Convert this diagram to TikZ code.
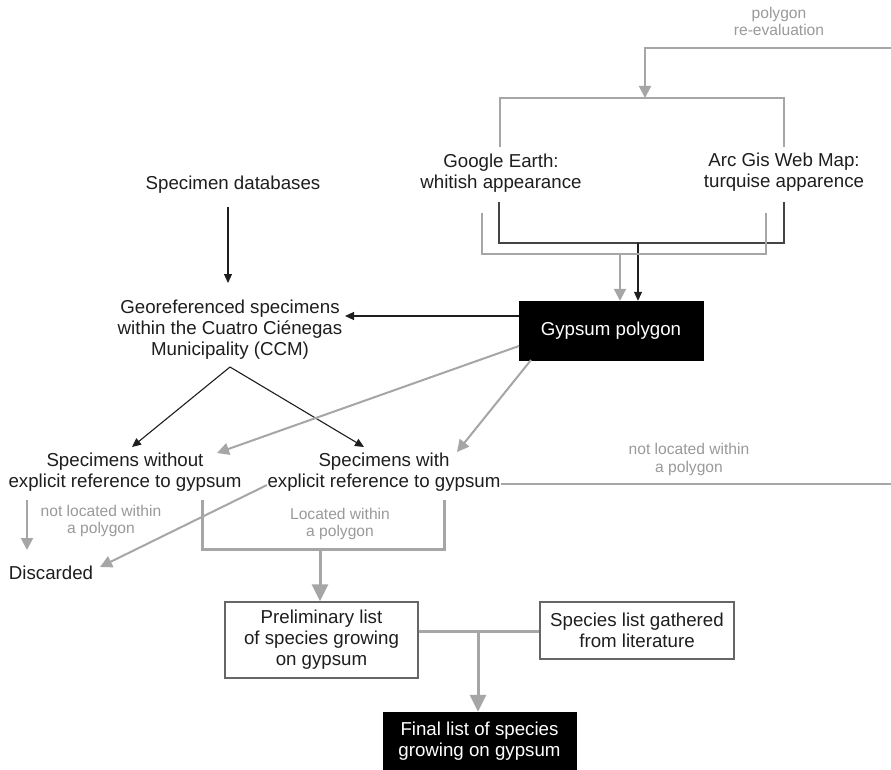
\documentclass[tikz,border=0pt]{standalone}
\usepackage{fontspec}
\setmainfont{Liberation Sans}
\usetikzlibrary{arrows.meta}
\definecolor{lgray}{HTML}{A6A6A6}
\definecolor{tgray}{HTML}{9A9A9A}
\definecolor{dk}{HTML}{1E1E1E}
\definecolor{bk}{HTML}{444444}
\begin{document}
\begin{tikzpicture}[x=1pt,y=-1pt,
  txt/.style={font=\fontsize{18.7}{21}\selectfont, text=dk, align=center, inner sep=0pt},
  lab/.style={font=\fontsize{15.6}{17.5}\selectfont, text=tgray, align=center, inner sep=0pt},
  whitebox/.style={txt, draw=black!60, line width=1.3pt, fill=white},
  blackbox/.style={txt, text=white, fill=black, draw=black},
  blk/.style={draw=dk, line width=1.1pt, -{Triangle[length=9pt,width=8pt]}},
  gry/.style={draw=lgray, line width=2pt},
  gryarr/.style={gry, -{Triangle[length=12pt,width=12pt]}},
  gbold/.style={draw=lgray, line width=3pt},
  gboldarr/.style={gbold, -{Triangle[length=17pt,width=16pt]}},
  bkt/.style={draw=bk, line width=2pt}
]
\useasboundingbox[fill=white] (0,0) rectangle (891,770);

% nodes
\node[lab] (poly) at (779,21.5) {polygon\\re-evaluation};
\node[txt] (ge) at (501,173.5) {Google Earth:\\whitish appearance};
\node[txt] (arc) at (784,172.5) {Arc Gis Web Map:\\turquise apparence};
\node[txt] (db) at (233,185) {Specimen databases};
\node[txt] (geo) at (230,329.5) {Georeferenced specimens\\within the Cuatro Ciénegas\\Municipality (CCM)};
\node[blackbox, minimum width=184pt, minimum height=59pt] (gyp) at (611,330.5) {Gypsum polygon};
\node[txt] (wo) at (125,472.5) {Specimens without\\explicit reference to gypsum};
\node[txt] (wi) at (384,472.5) {Specimens with\\explicit reference to gypsum};
\node[lab] (nlr) at (689,459.5) {not located within\\a polygon};
\node[lab] (nll) at (101,521) {not located within\\a polygon};
\node[lab] (loc) at (340,524) {Located within\\a polygon};
\node[txt] (dis) at (51,573) {Discarded};
\node[whitebox, minimum width=193pt, minimum height=76pt] (pre) at (321.5,640) {Preliminary list\\of species growing\\on gypsum};
\node[whitebox, minimum width=194pt, minimum height=57pt] (lit) at (637,630.5) {Species list gathered\\from literature};
\node[blackbox, minimum width=193pt, minimum height=58pt] (fin) at (479.5,741) {Final list of species\\growing on gypsum};

% coordinates
\coordinate (fbA) at (891,484);
\coordinate (fbB) at (891,48);
\coordinate (fbC) at (645,48);
\coordinate (gt) at (645,98);
\coordinate (u1) at (500,147);
\coordinate (u2) at (500,98);
\coordinate (u3) at (784,98);
\coordinate (u4) at (784,147);
\coordinate (b1) at (499,202);
\coordinate (b2) at (499,243);
\coordinate (b3) at (784,243);
\coordinate (b4) at (784,202);
\coordinate (bm) at (638,243);
\coordinate (l1) at (482,213);
\coordinate (l2) at (482,254);
\coordinate (l3) at (766,254);
\coordinate (l4) at (766,213);
\coordinate (lm) at (620,254);
\coordinate (d1) at (228,207);
\coordinate (d2) at (228,283);
\coordinate (g1) at (345,316);
\coordinate (ap) at (230,367);
\coordinate (wot) at (132,447);
\coordinate (wit) at (364,447);
\coordinate (gs1) at (519,346);
\coordinate (wog) at (217,453);
\coordinate (gs2) at (531,360);
\coordinate (wig) at (457,452);
\coordinate (n1) at (27,500);
\coordinate (n2) at (27,550);
\coordinate (w1) at (267,485);
\coordinate (dt) at (100,567);
\coordinate (k1) at (202,500);
\coordinate (k2) at (202,549);
\coordinate (k3) at (444,549);
\coordinate (k4) at (444,500);
\coordinate (km) at (320,549);
\coordinate (lk) at (478,631);

% connectors
\draw[gry] (wi.east |- fbA) -- (fbA);
\draw[gryarr] (fbB) -- (fbC) -- (gt);
\draw[gry] (u1) -- (u2) -- (u3) -- (u4);
\draw[bkt] (b1) -- (b2) -- (b3) -- (b4);
\draw[blk] (bm) -- (bm |- gyp.north);
\draw[gry] (l1) -- (l2) -- (l3) -- (l4);
\draw[gryarr] (lm) -- (lm |- gyp.north);
\draw[blk] (d1) -- (d2);
\draw[blk] (gyp.west |- g1) -- (g1);
\draw[blk] (ap) -- (wot);
\draw[blk] (ap) -- (wit);
\draw[gryarr] (gs1) -- (wog);
\draw[gryarr] (gs2) -- (wig);
\draw[gryarr] (n1) -- (n2);
\draw[gryarr] (w1) -- (dt);
\draw[gbold] (k1) -- (k2) -- (k3) -- (k4);
\draw[gboldarr] (km) -- (km |- pre.north);
\draw[gbold] (pre.east |- lk) -- (lit.west |- lk);
\draw[gboldarr] (lk) -- (lk |- fin.north);
\end{tikzpicture}
\end{document}
